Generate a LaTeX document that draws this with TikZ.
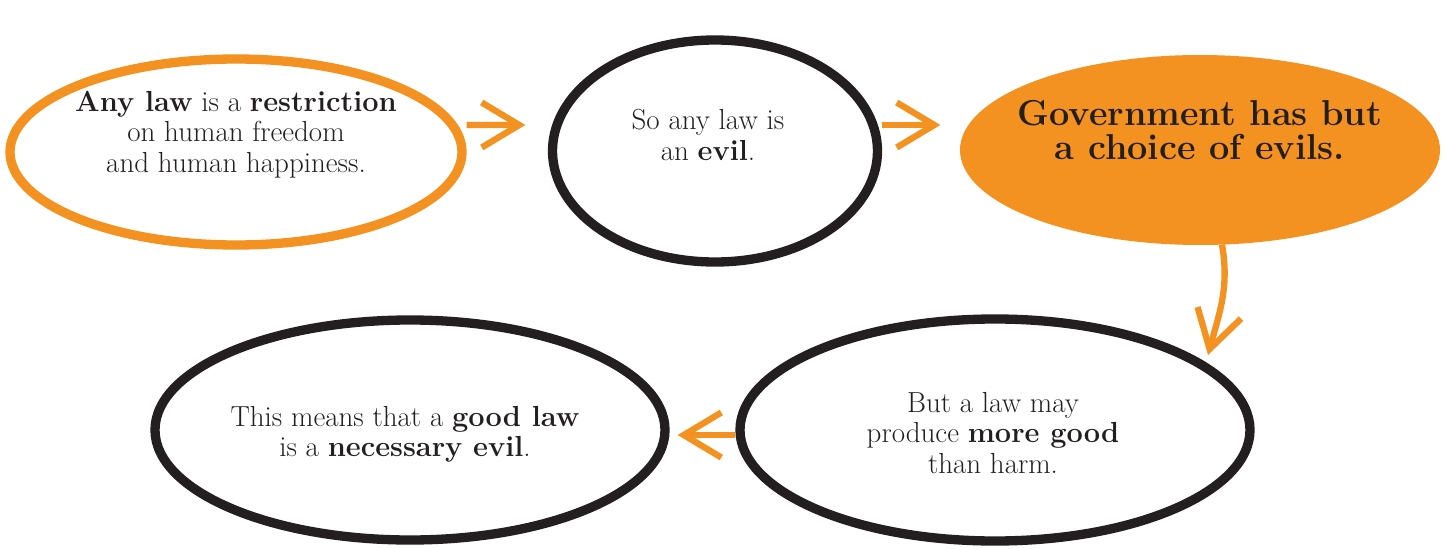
\documentclass[tikz,border=0pt]{standalone}
\usepackage{xcolor}
\usepackage{tikz}
\usetikzlibrary{arrows.meta,shapes.geometric}
\definecolor{laworange}{RGB}{243,146,33}
\definecolor{inkblack}{RGB}{35,31,32}

\begin{document}
\begin{tikzpicture}[
      bubble/.style={ellipse, draw=inkblack, line width=5.3pt, inner sep=0pt},
      txt/.style={align=center, text=inkblack,
                  font=\fontsize{16.5}{17.2}\selectfont},
      arr/.style={draw=laworange, line width=3.6pt,
                  -{Straight Barb[length=0.75cm, width=0.9cm]}}]
    \useasboundingbox (0,0) rectangle (29,10.96);

    \node[bubble, draw=laworange, minimum width=9.04cm, minimum height=3.72cm]
      (law) at (4.72,7.92) {};
    \node[bubble, minimum width=6.5cm, minimum height=4.44cm]
      (evil) at (14.3,7.94) {};
    \node[bubble, draw=none, fill=laworange, minimum width=9.6cm, minimum height=3.8cm]
      (choice) at (24.0,7.96) {};
    \node[bubble, minimum width=10.2cm, minimum height=4.44cm]
      (good) at (19.9,2.36) {};
    \node[bubble, minimum width=10.2cm, minimum height=4.4cm]
      (hope) at (8.2,2.36) {};

    \node[txt] (lawtext) at (4.72,8.27) {\textbf{Any law} is a \textbf{restriction}\\
      on human freedom\\ and human happiness.};
    \node[txt] (eviltext) at (14.16,8.26) {So any law is\\ an \textbf{evil}.};
    \node[txt, font=\fontsize{20.5}{19.5}\selectfont\bfseries] (choicetext) at (24.0,8.36)
      {Government has but\\ a choice of evils.};
    \node[txt] (goodtext) at (19.86,2.3) {But a law may\\
      produce \textbf{more good}\\ than harm.};
    \node[txt] (hopetext) at (8.1,2.28) {This means that a \textbf{good law}\\
      is a \textbf{necessary evil}.};

    \coordinate (downend) at (24.16,3.86);

    \draw[arr] ([yshift=0.54cm]law.east) -- ([xshift=-0.45cm, yshift=0.52cm]evil.west);
    \draw[arr] ([yshift=0.52cm]evil.east) -- ([xshift=-0.3cm, yshift=0.5cm]choice.west);
    \draw[arr] ([xshift=0.44cm, yshift=0.1cm]choice.south) to[out=-80, in=75] (downend);
    \draw[arr] ([yshift=-0.1cm]good.west) -- ([xshift=0.16cm, yshift=-0.1cm]hope.east);
  \end{tikzpicture}
\end{document}
